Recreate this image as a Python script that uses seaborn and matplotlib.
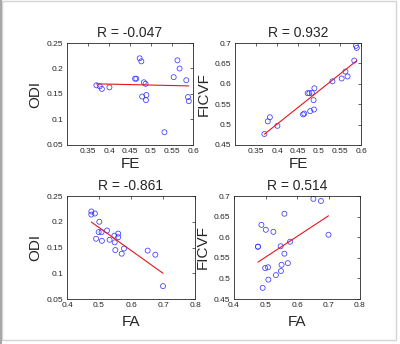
import numpy as np
import pandas as pd
import seaborn as sns
from matplotlib import pyplot as plt
from matplotlib.patches import Rectangle

# one value per subject
fe = [0.370, 0.378, 0.383, 0.401, 0.462, 0.465, 0.473, 0.477, 0.479, 0.483,
      0.487, 0.489, 0.488, 0.532, 0.554, 0.563, 0.568, 0.584, 0.588, 0.590]
fa = [0.491, 0.533, 0.549, 0.509, 0.499, 0.508, 0.476, 0.476, 0.551, 0.548,
      0.560, 0.578, 0.571, 0.700, 0.525, 0.487, 0.501, 0.560, 0.652, 0.676]
odi = [0.167, 0.165, 0.160, 0.163, 0.180, 0.180, 0.220, 0.214, 0.145, 0.173,
       0.170, 0.148, 0.138, 0.075, 0.183, 0.216, 0.200, 0.177, 0.144, 0.136]
ficvf = [0.477, 0.508, 0.518, 0.497, 0.525, 0.527, 0.577, 0.577, 0.533, 0.578,
         0.560, 0.589, 0.537, 0.606, 0.613, 0.630, 0.618, 0.657, 0.693, 0.688]

titles = ['R = -0.047', 'R = 0.932', 'R = -0.861', 'R = 0.514']

fe_ticks = [0.35, 0.4, 0.45, 0.5, 0.55, 0.6]
fe_ticklabels = ['0.35', '0.4', '0.45', '0.5', '0.55', '0.6']
fa_ticks = [0.4, 0.5, 0.6, 0.7, 0.8]
fa_ticklabels = ['0.4', '0.5', '0.6', '0.7', '0.8']
odi_ticks = [0.05, 0.1, 0.15, 0.2, 0.25]
odi_ticklabels = ['0.05', '0.1', '0.15', '0.2', '0.25']
ficvf_ticks = [0.45, 0.5, 0.55, 0.6, 0.65, 0.7]
ficvf_ticklabels = ['0.45', '0.5', '0.55', '0.6', '0.65', '0.7']

df = pd.DataFrame({'FE': fe, 'FA': fa, 'ODI': odi, 'FICVF': ficvf})

sns.set_theme(style='white')
plt.rcParams['font.family'] = ['Liberation Sans', 'DejaVu Sans']

fig = plt.figure(figsize=(4, 3.44), dpi=100)

# frame around the whole picture
fig.patches.append(Rectangle((0.004, 0.012), 0.986, 0.984, transform=fig.transFigure,
                             fill=False, edgecolor='#d4d4d4', lw=1.0))
fig.patches.append(Rectangle((0.0, 0.0), 0.006, 1.0, transform=fig.transFigure,
                             color='#a8a8a8', lw=0))

panels = [
    # rect, x, y, title, xlim, ylim, xticks, xticklabels, yticks, yticklabels, xlabelpad
    ([0.1675, 0.5785, 0.315, 0.2965], 'FE', 'ODI', titles[0], (0.3, 0.6), (0.05, 0.25),
     fe_ticks, fe_ticklabels, odi_ticks, odi_ticklabels, 1),
    ([0.5875, 0.5785, 0.315, 0.2965], 'FE', 'FICVF', titles[1], (0.3, 0.6), (0.45, 0.7),
     fe_ticks, fe_ticklabels, ficvf_ticks, ficvf_ticklabels, 1),
    ([0.1675, 0.1308, 0.32, 0.2994], 'FA', 'ODI', titles[2], (0.4, 0.8), (0.05, 0.25),
     fa_ticks, fa_ticklabels, odi_ticks, odi_ticklabels, 4),
    ([0.585, 0.1308, 0.315, 0.2994], 'FA', 'FICVF', titles[3], (0.4, 0.8), (0.45, 0.7),
     fa_ticks, fa_ticklabels, ficvf_ticks, ficvf_ticklabels, 4),
]

for rect, xcol, ycol, title, xlim, ylim, xt, xtl, yt, ytl, pad in panels:
    ax = fig.add_axes(rect)
    sns.regplot(data=df, x=xcol, y=ycol, ax=ax, ci=None, truncate=True,
                scatter_kws={'facecolors': 'none', 'edgecolors': '#3a3aff', 's': 13,
                             'linewidths': 0.55, 'alpha': 1},
                line_kws={'color': '#e8141e', 'lw': 0.8})
    ax.set_xlim(xlim)
    ax.set_ylim(ylim)
    ax.set_xticks(xt)
    ax.set_xticklabels(xtl)
    ax.set_yticks(yt)
    ax.set_yticklabels(ytl)
    ax.tick_params(direction='in', length=2, width=0.5, labelsize=6, pad=2.5,
                   colors='#262626', top=True, right=True)
    for s in ax.spines.values():
        s.set_color('#262626')
        s.set_linewidth(0.6)
    ax.set_xlabel(xcol, fontsize=11, labelpad=pad)
    ax.set_ylabel(ycol, fontsize=11, labelpad=3)
    ax.set_title(title, fontsize=10, pad=4)

fig.savefig('out.png', dpi=100)
